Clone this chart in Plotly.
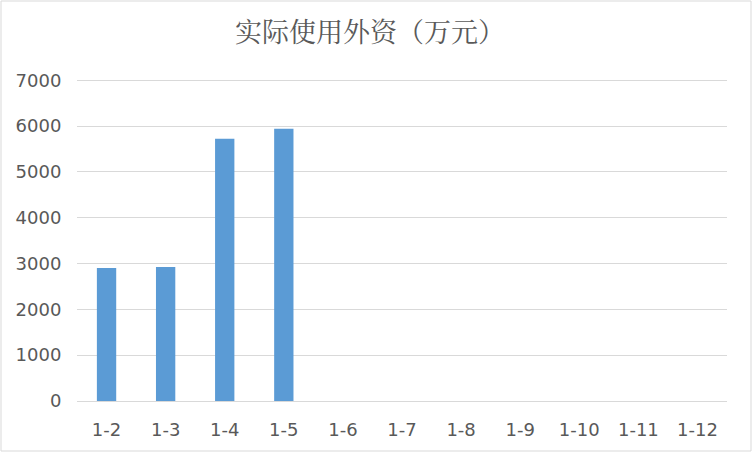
import plotly.graph_objects as go

categories = ['1-2', '1-3', '1-4', '1-5', '1-6', '1-7', '1-8', '1-9', '1-10', '1-11', '1-12']
fdi_values = [2905, 2925, 5725, 5945, None, None, None, None, None, None, None]
y_ticks = [0, 1000, 2000, 3000, 4000, 5000, 6000, 7000]

W, H = 752, 452
ml, mr, mt, mb = 77, 25, 78, 51
pw, ph = W - ml - mr, H - mt - mb

fig = go.Figure(go.Bar(
    x=categories,
    y=fdi_values,
    marker={'color': '#5b9bd5', 'line': {'width': 0}},
    showlegend=False))

fig.update_layout(
    width=W, height=H,
    margin={'l': ml, 'r': mr, 't': mt, 'b': mb},
    paper_bgcolor='white', plot_bgcolor='white',
    bargap=0.673,
    title={'text': '实际使用外资（万元）', 'x': 0.492, 'xanchor': 'center',
           'y': 1 - 33 / H, 'yanchor': 'middle',
           'font': {'family': 'Noto Serif CJK SC, Noto Sans CJK SC', 'size': 27, 'color': '#595959'}},
    font={'family': 'DejaVu Sans', 'color': '#595959', 'size': 18})

# a little headroom above 7000 so its gridline is still drawn
fig.update_yaxes(range=[0, 7050], tickvals=y_ticks, showgrid=True, gridcolor='#d9d9d9',
                 gridwidth=1, zeroline=False, showline=False,
                 ticks='outside', ticklen=11, tickcolor='rgba(0,0,0,0)')
fig.update_xaxes(showline=True, linecolor='#d9d9d9', linewidth=1, showgrid=False,
                 ticks='outside', ticklen=12, tickcolor='rgba(0,0,0,0)')

# outer chart border
fig.add_shape(type='rect', xref='paper', yref='paper',
              x0=-(ml - 1) / pw, x1=1 + (mr - 1) / pw,
              y0=-(mb - 1) / ph, y1=1 + (mt - 1) / ph,
              line={'color': '#d9d9d9', 'width': 1})

# drop the default body margin so the figure sits at the page corner
fig.write_html("out.html", config={'displayModeBar': False},
               post_script="document.body.style.margin='0';")
